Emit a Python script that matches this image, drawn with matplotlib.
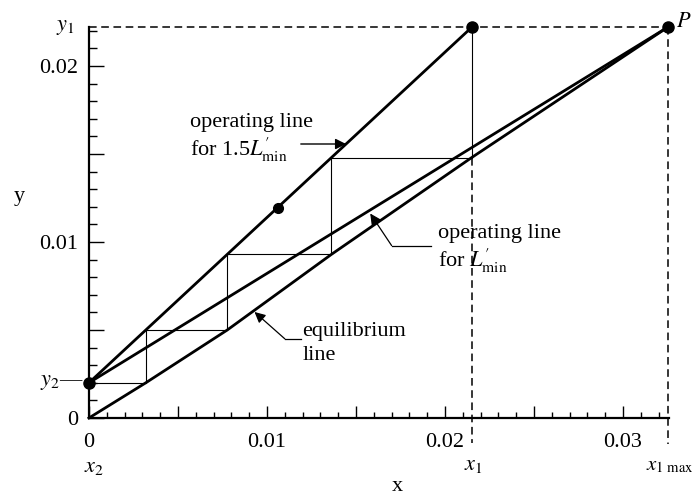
import numpy as np
import matplotlib
matplotlib.use('Agg')
import matplotlib.pyplot as plt
from matplotlib.ticker import MultipleLocator

plt.rcParams['font.family'] = ['Liberation Serif', 'DejaVu Serif']
plt.rcParams['mathtext.fontset'] = 'stix'

# Concentraciones de los puntos extremos de la columna de absorcion
x2, y2 = 0.0, 0.002
x1, y1 = 0.0215, 0.0222
x1max = 0.0325

# Valores de y sobre la curva de equilibrio en cada etapa (el ultimo es y2)
etapas_y = [0.0148, 0.0093, 0.0050, 0.0020]

# Punto marcado sobre la linea de operacion 1.5 L'min
x_medio = 0.0106

# Marcas de los ejes
xticks = [0, 0.005, 0.01, 0.015, 0.02, 0.025, 0.03]
xtick_labels = ['0', '', '0.01', '', '0.02', '', '0.03']
yticks = [0, 0.005, 0.01, 0.015, 0.02]
ytick_labels = ['0', '', '0.01', '', '0.02']

# Pendientes de las lineas de operacion
m_op = (y1 - y2) / (x1 - x2)
m_min = (y1 - y2) / (x1max - x2)

# Escalones: vertical hasta el equilibrio, horizontal hasta la linea de operacion
etapas_x = [x1]
for e in etapas_y[:-1]:
    etapas_x.append(x2 + (e - y2) / m_op)
esc_x, esc_y = [x1], [y1]
for xs, e in zip(etapas_x, etapas_y):
    esc_x += [xs, x2 + (e - y2) / m_op]
    esc_y += [e, e]

# Curva de equilibrio que pasa por los vertices de los escalones
eq_x = [0.0] + etapas_x[::-1] + [x1max]
eq_y = [0.0] + etapas_y[::-1] + [y1]

fig = plt.figure(figsize=(6.95, 4.97), dpi=100)
ax = fig.add_axes([0.128, 0.159, 0.835, 0.786])
ax.set_xlim(0, 0.0326)
ax.set_ylim(0, y1)

for s in ['top', 'right']:
    ax.spines[s].set_visible(False)
for s in ['left', 'bottom']:
    ax.spines[s].set_linewidth(1.6)

ax.set_xticks(xticks)
ax.set_xticklabels(xtick_labels)
ax.set_yticks(yticks)
ax.set_yticklabels(ytick_labels)
ax.xaxis.set_minor_locator(MultipleLocator(0.001))
ax.yaxis.set_minor_locator(MultipleLocator(0.001))
ax.tick_params(axis='x', which='major', direction='in', length=8.5, width=1.0, pad=11, labelsize=16)
ax.tick_params(axis='x', which='minor', direction='in', length=4.5, width=1.0)
ax.tick_params(axis='y', which='major', direction='in', length=11, width=1.0, pad=8, labelsize=16)
ax.tick_params(axis='y', which='minor', direction='in', length=5.5, width=1.0)

# Lineas principales
xx = np.array([x2, x1])
ax.plot(xx, y2 + m_op * (xx - x2), 'k', lw=2.0, clip_on=False)
xx = np.array([x2, x1max])
ax.plot(xx, y2 + m_min * (xx - x2), 'k', lw=2.0, clip_on=False)
ax.plot(eq_x, eq_y, 'k', lw=2.0, clip_on=False, solid_joinstyle='round')

# Escalones
ax.plot(esc_x, esc_y, 'k', lw=0.8)

# Lineas discontinuas
ax.plot([0, x1max], [y1, y1], 'k', lw=1.1, ls=(0, (5, 3)), clip_on=False)
ax.plot([x1, x1], [etapas_y[0], -0.0014], 'k', lw=1.1, ls=(0, (5, 3)), clip_on=False)
ax.plot([x1max, x1max], [y1, -0.0015], 'k', lw=1.1, ls=(0, (5, 3)), clip_on=False)

# Puntos
ax.plot([x2, x1, x1max], [y2, y1, y1], 'ko', ms=8, clip_on=False, zorder=5)
ax.plot([x_medio], [y2 + m_op * x_medio], 'ko', ms=7, zorder=5)

# Textos de los ejes
ax.text(-0.00135, y1, r'$y_1$', fontsize=16, ha='center', va='center')
ax.text(-0.0003, y2, r'$y_2$—', fontsize=16, ha='right', va='center')
ax.text(0.0003, -0.0028, r'$x_2$', fontsize=16, ha='center', va='center')
ax.text(x1 + 0.0001, -0.0027, r'$x_1$', fontsize=16, ha='center', va='center')
ax.text(x1max + 0.0001, -0.0027, r'$x_{1\ \mathrm{max}}$', fontsize=15, ha='center', va='center')
ax.text(x1max + 0.0009, y1 + 0.0003, r'$P$', fontsize=16, ha='center', va='center')
ax.text(0.0173, -0.0039, 'x', fontsize=16, ha='center', va='center')
ax.text(-0.0039, 0.0126, 'y', fontsize=16, ha='center', va='center')

# Rotulos de las lineas
ax.text(0.0057, 0.0168, 'operating line', fontsize=16, ha='left', va='center')
ax.text(0.0057, 0.01525, r'for 1.5$L^{\prime}_{\mathrm{min}}$', fontsize=16, ha='left', va='center')
y_flecha = 0.01557
ax.annotate('', xy=((y_flecha - y2) / m_op, y_flecha), xytext=(0.0119, y_flecha),
            arrowprops=dict(arrowstyle='-|>', color='k', lw=1.0, mutation_scale=16,
                            shrinkA=0, shrinkB=0))

ax.text(0.0196, 0.0105, 'operating line', fontsize=16, ha='left', va='center')
ax.text(0.0196, 0.0089, r'for $L^{\prime}_{\mathrm{min}}$', fontsize=16, ha='left', va='center')
ax.plot([0.0170, 0.0192], [0.0098, 0.0098], 'k', lw=0.9)
x_punta = 0.0158
ax.annotate('', xy=(x_punta, y2 + m_min * x_punta - 0.0002), xytext=(0.0170, 0.0098),
            arrowprops=dict(arrowstyle='-|>', color='k', lw=0.9, mutation_scale=16,
                            shrinkA=0, shrinkB=0))

ax.text(0.0120, 0.0049, 'equilibrium', fontsize=16, ha='left', va='center')
ax.text(0.0120, 0.00355, 'line', fontsize=16, ha='left', va='center')
ax.plot([0.0110, 0.0119], [0.0045, 0.0045], 'k', lw=0.9)
x_punta = 0.0093
ax.annotate('', xy=(x_punta, np.interp(x_punta, eq_x, eq_y) - 0.0001), xytext=(0.0110, 0.0045),
            arrowprops=dict(arrowstyle='-|>', color='k', lw=0.9, mutation_scale=16,
                            shrinkA=0, shrinkB=0))

fig.savefig('out.png', dpi=100)
